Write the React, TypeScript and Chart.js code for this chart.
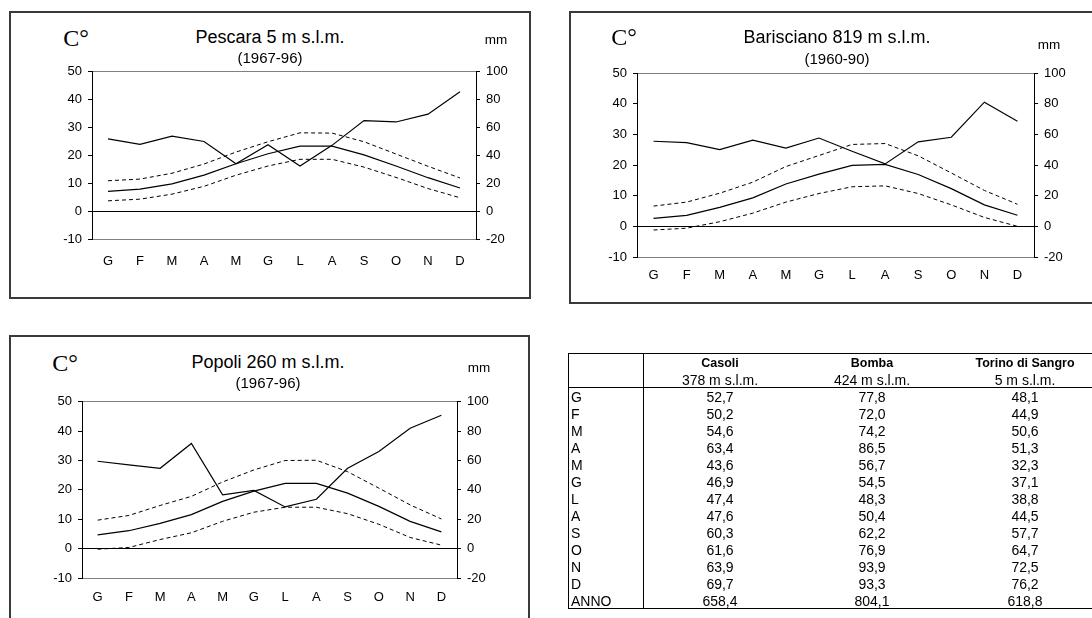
import React, { useEffect, useRef } from "react";
import { Chart, registerables } from "chart.js";
Chart.register(...registerables);

const months = ["G", "F", "M", "A", "M", "G", "L", "A", "S", "O", "N", "D"];

// Pescara 5 m s.l.m. (1967-96)
const pescaraPrecip = [51.9, 47.9, 53.8, 50.0, 34.0, 47.6, 32.4, 47.2, 65.0, 64.0, 69.6, 85.7];
const pescaraMean = [7.1, 7.9, 9.8, 12.9, 17.0, 20.6, 23.3, 23.3, 20.2, 16.2, 12.0, 8.3];
const pescaraMax = [10.9, 11.5, 13.6, 16.9, 21.2, 24.9, 28.1, 28.0, 24.9, 20.5, 16.1, 11.9];
const pescaraMin = [3.7, 4.3, 6.1, 8.9, 12.9, 16.2, 18.6, 18.6, 15.8, 12.1, 8.1, 4.8];

// Barisciano 819 m s.l.m. (1960-90)
const bariPrecip = [55.5, 54.6, 50.0, 56.2, 51.0, 57.6, 49.0, 40.7, 55.1, 58.1, 81.0, 68.6];
const bariMean = [2.6, 3.6, 6.2, 9.3, 13.8, 17.0, 19.9, 20.2, 16.9, 12.3, 7.0, 3.6];
const bariMax = [6.6, 7.9, 10.8, 14.4, 19.5, 23.1, 26.7, 27.0, 23.0, 17.4, 11.7, 7.2];
const bariMin = [-1.2, -0.6, 1.5, 4.3, 7.9, 10.7, 12.9, 13.2, 10.7, 7.0, 2.9, 0.0];

// Popoli 260 m s.l.m. (1967-96)
const popoliPrecip = [59.5, 57.0, 54.7, 71.6, 36.7, 39.6, 28.4, 33.6, 54.7, 66.2, 82.0, 90.8];
const popoliMean = [4.7, 6.1, 8.6, 11.6, 16.1, 19.6, 22.2, 22.2, 18.9, 14.4, 9.3, 5.7];
const popoliMax = [9.7, 11.3, 14.7, 17.8, 22.7, 26.8, 30.0, 30.1, 26.2, 20.6, 14.9, 10.1];
const popoliMin = [-0.2, 0.4, 3.1, 5.4, 9.3, 12.4, 14.1, 14.1, 11.9, 8.3, 3.8, 1.2];

// Table
const tableRows = ["G", "F", "M", "A", "M", "G", "L", "A", "S", "O", "N", "D", "ANNO"];
const tableStations = ["Casoli", "Bomba", "Torino di Sangro"];
const tableAltitudes = ["378 m s.l.m.", "424 m s.l.m.", "5 m s.l.m."];
const casoli = [52.7, 50.2, 54.6, 63.4, 43.6, 46.9, 47.4, 47.6, 60.3, 61.6, 63.9, 69.7, 658.4];
const bomba = [77.8, 72.0, 74.2, 86.5, 56.7, 54.5, 48.3, 50.4, 62.2, 76.9, 93.9, 93.3, 804.1];
const torino = [48.1, 44.9, 50.6, 51.3, 32.3, 37.1, 38.8, 44.5, 57.7, 64.7, 72.5, 76.2, 618.8];

const SANS = "'Liberation Sans', Arial, sans-serif";
const SERIF = "'Liberation Serif', 'Times New Roman', serif";

type Geo = { left: number; top: number; w: number; h: number; lw: number; rw: number; padTop: number; xh: number; xPad: number };

function ClimateChart(props: { geo: Geo; precip: number[]; mean: number[]; max: number[]; min: number[] }) {
  const ref = useRef<HTMLCanvasElement>(null);
  const { geo } = props;
  useEffect(() => {
    const font = { family: SANS, size: 13 };
    const line = (data: number[], axis: string, dash: number[], width: number) => ({
      data,
      yAxisID: axis,
      borderColor: "#000",
      borderWidth: width,
      borderDash: dash,
      pointRadius: 0,
      fill: false,
      tension: 0,
    });
    const chart = new Chart(ref.current!, {
      type: "line",
      data: {
        labels: months,
        datasets: [
          line(props.precip, "y1", [], 1.2),
          line(props.max, "y", [4, 3], 1),
          line(props.mean, "y", [], 1.2),
          line(props.min, "y", [4, 3], 1),
        ],
      },
      options: {
        animation: false,
        responsive: false,
        devicePixelRatio: 1,
        layout: { padding: { top: geo.padTop, left: 0, right: 0, bottom: 0 } },
        plugins: { legend: { display: false }, tooltip: { enabled: false }, title: { display: false } },
        scales: {
          x: {
            type: "category",
            offset: true,
            grid: { display: false, drawTicks: false },
            border: { display: true, color: "#808080", width: 1 },
            ticks: { font, color: "#000", padding: geo.xPad, maxRotation: 0, autoSkip: false },
            afterFit: (s: any) => { s.height = geo.xh; },
          },
          y: {
            position: "left",
            min: -10,
            max: 50,
            ticks: { stepSize: 10, font, color: "#000", padding: 6 },
            grid: {
              drawOnChartArea: true,
              color: (ctx: any) => (ctx.tick && ctx.tick.value === 0 ? "#000" : ctx.tick && ctx.tick.value === 50 ? "#808080" : "rgba(0,0,0,0)"),
              tickColor: "#000",
              tickLength: 4,
              lineWidth: 1,
            },
            border: { display: true, color: "#000", width: 1 },
            afterFit: (s: any) => { s.width = geo.lw; },
          },
          y1: {
            position: "right",
            min: -20,
            max: 100,
            ticks: { stepSize: 20, font, color: "#000", padding: 6 },
            grid: { drawOnChartArea: false, tickColor: "#000", tickLength: 4 },
            border: { display: true, color: "#000", width: 1 },
            afterFit: (s: any) => { s.width = geo.rw; },
          },
        },
      },
    } as any);
    return () => chart.destroy();
  }, []);
  return (
    <canvas
      ref={ref}
      width={geo.w}
      height={geo.h}
      style={{ position: "absolute", left: geo.left, top: geo.top, width: geo.w, height: geo.h }}
    />
  );
}

function T(props: { x: number; y: number; text: string; size: number; serif?: boolean; bold?: boolean; align?: "left" | "center" }) {
  const align = props.align || "center";
  return (
    <div
      style={{
        position: "absolute",
        left: props.x,
        top: props.y,
        transform: align === "center" ? "translate(-50%, -50%)" : "translate(0, -50%)",
        fontFamily: props.serif ? SERIF : SANS,
        fontSize: props.size,
        fontWeight: props.bold ? "bold" : "normal",
        whiteSpace: "nowrap",
        lineHeight: 1,
        color: "#000",
      }}
    >
      {props.text}
    </div>
  );
}

function Box(props: { left: number; top: number; w: number; h: number }) {
  return (
    <div
      style={{
        position: "absolute",
        left: props.left,
        top: props.top,
        width: props.w,
        height: props.h,
        border: "2px solid #3a3a3a",
        boxSizing: "border-box",
      }}
    />
  );
}

function HLine(props: { x: number; y: number; w: number }) {
  return <div style={{ position: "absolute", left: props.x, top: props.y, width: props.w, height: 1, background: "#000" }} />;
}
function VLine(props: { x: number; y: number; h: number }) {
  return <div style={{ position: "absolute", left: props.x, top: props.y, width: 1, height: props.h, background: "#000" }} />;
}

const fmt = (v: number) => v.toFixed(1).replace(".", ",");

function DataTable() {
  const colX = [720, 872, 1025];
  const cols = [casoli, bomba, torino];
  return (
    <>
      <HLine x={568} y={353} w={530} />
      <HLine x={568} y={387} w={530} />
      <HLine x={568} y={608} w={530} />
      <VLine x={568} y={353} h={256} />
      <VLine x={643} y={353} h={256} />
      {tableStations.map((s, i) => (
        <T key={"s" + i} x={colX[i]} y={363} text={s} size={12.5} bold />
      ))}
      {tableAltitudes.map((s, i) => (
        <T key={"a" + i} x={colX[i]} y={380} text={s} size={14} />
      ))}
      {tableRows.map((r, i) => (
        <T key={"r" + i} x={571} y={397 + 17 * i} text={r} size={14} align="left" />
      ))}
      {cols.map((col, c) =>
        col.map((v, i) => <T key={"v" + c + "-" + i} x={colX[c]} y={397 + 17 * i} text={fmt(v)} size={14} />)
      )}
    </>
  );
}

export default function App() {
  const g1: Geo = { left: 40, top: 58, w: 480, h: 225, lw: 52, rw: 44, padTop: 13, xh: 44, xPad: 15 };
  const g2: Geo = { left: 585, top: 58, w: 490, h: 240, lw: 52, rw: 41, padTop: 15, xh: 41, xPad: 11 };
  const g3: Geo = { left: 30, top: 388, w: 480, h: 228, lw: 52, rw: 53, padTop: 13, xh: 38, xPad: 12 };
  return (
    <div style={{ position: "fixed", left: 0, top: 0, width: 1092, height: 618, overflow: "hidden", background: "#fff" }}>
      <Box left={9} top={11} w={522} h={288} />
      <Box left={569} top={11} w={600} h={293} />
      <Box left={9} top={335} w={521} h={300} />

      <ClimateChart geo={g1} precip={pescaraPrecip} mean={pescaraMean} max={pescaraMax} min={pescaraMin} />
      <ClimateChart geo={g2} precip={bariPrecip} mean={bariMean} max={bariMax} min={bariMin} />
      <ClimateChart geo={g3} precip={popoliPrecip} mean={popoliMean} max={popoliMax} min={popoliMin} />

      <T x={76} y={38} text="C°" size={24} serif />
      <T x={270} y={37} text="Pescara 5 m s.l.m." size={18} />
      <T x={270} y={57} text="(1967-96)" size={15} />
      <T x={496} y={40} text="mm" size={13.5} />

      <T x={624} y={37} text="C°" size={24} serif />
      <T x={837} y={37} text="Barisciano 819 m s.l.m." size={18} />
      <T x={837} y={58} text="(1960-90)" size={15} />
      <T x={1049} y={45} text="mm" size={13.5} />

      <T x={65} y={363} text="C°" size={24} serif />
      <T x={268} y={362} text="Popoli 260 m s.l.m." size={18} />
      <T x={268} y={382} text="(1967-96)" size={15} />
      <T x={479} y={368} text="mm" size={13.5} />

      <DataTable />
    </div>
  );
}
